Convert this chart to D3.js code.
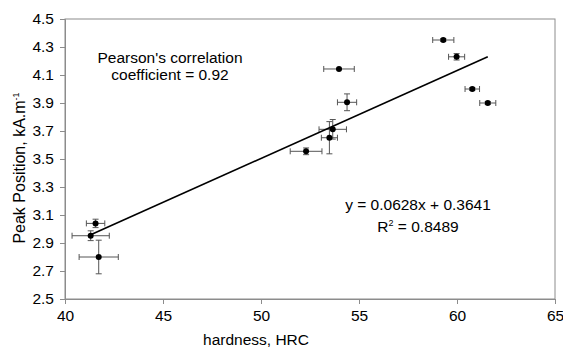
<!DOCTYPE html>
<html><head><meta charset="utf-8">
<script src="https://cdn.jsdelivr.net/npm/d3@7"></script>
<style>body{margin:0;background:#fff}text{font-family:"Liberation Sans",Arial,sans-serif;fill:#000}</style>
</head><body><svg id="c" width="563" height="349"></svg>
<script>
const hardness   = [41.56, 41.31, 41.72, 52.30, 53.49, 53.66, 54.39, 53.98, 59.30, 59.98, 60.78, 61.57];
const peakPos    = [3.04, 2.952, 2.80, 3.555, 3.652, 3.712, 3.905, 4.143, 4.35, 4.23, 4.00, 3.90];
const hardnessErr= [0.47, 0.95, 1.00, 0.81, 0.41, 0.70, 0.49, 0.78, 0.54, 0.41, 0.37, 0.41];
const peakErr    = [0.03, 0.035, 0.12, 0.024, 0.115, 0.07, 0.06, 0.005, 0.01, 0.023, 0.01, 0.01];
const xTicks = [40, 45, 50, 55, 60, 65];
const yTicks = [2.5, 2.7, 2.9, 3.1, 3.3, 3.5, 3.7, 3.9, 4.1, 4.3, 4.5];
const slope = 0.0628, intercept = 0.3641;

const svg = d3.select("#c");
const L = 65, R = 555, T = 19, B = 299;
const x = d3.scaleLinear().domain([40, 65]).range([L, R]);
const y = d3.scaleLinear().domain([2.5, 4.5]).range([B, T]);
const gray = "#8c8c8c";
const fs = 15.5;

svg.append("rect").attr("x", L).attr("y", T).attr("width", R - L).attr("height", B - T)
  .attr("fill", "none").attr("stroke", gray).attr("stroke-width", 1);

const xa = svg.append("g").attr("transform", `translate(0,${B})`)
  .call(d3.axisBottom(x).tickValues(xTicks).tickSize(5).tickPadding(6).tickFormat(d3.format("d")));
const ya = svg.append("g").attr("transform", `translate(${L},0)`)
  .call(d3.axisLeft(y).tickValues(yTicks).tickSize(5).tickPadding(6).tickFormat(d3.format(".1f")));
[xa, ya].forEach(a => {
  a.select(".domain").attr("stroke", gray);
  a.selectAll(".tick line").attr("stroke", gray);
  a.selectAll("text").attr("font-size", fs).attr("font-family", "Liberation Sans, Arial, sans-serif").attr("fill", "#000");
});

const data = hardness.map((h, i) => ({x: h, y: peakPos[i], ex: hardnessErr[i], ey: peakErr[i]}));
const eb = svg.append("g").attr("stroke", "#555").attr("stroke-width", 1).attr("fill", "none");
const cap = 3;
data.forEach(d => {
  const cx = x(d.x), cy = y(d.y);
  const x0 = x(d.x - d.ex), x1 = x(d.x + d.ex), y0 = y(d.y - d.ey), y1 = y(d.y + d.ey);
  eb.append("line").attr("x1", x0).attr("x2", x1).attr("y1", cy).attr("y2", cy);
  eb.append("line").attr("x1", x0).attr("x2", x0).attr("y1", cy - cap).attr("y2", cy + cap);
  eb.append("line").attr("x1", x1).attr("x2", x1).attr("y1", cy - cap).attr("y2", cy + cap);
  eb.append("line").attr("x1", cx).attr("x2", cx).attr("y1", y0).attr("y2", y1);
  eb.append("line").attr("x1", cx - cap).attr("x2", cx + cap).attr("y1", y0).attr("y2", y0);
  eb.append("line").attr("x1", cx - cap).attr("x2", cx + cap).attr("y1", y1).attr("y2", y1);
});

const xmin = d3.min(hardness), xmax = d3.max(hardness);
svg.append("line")
  .attr("x1", x(xmin)).attr("y1", y(slope * xmin + intercept))
  .attr("x2", x(xmax)).attr("y2", y(slope * xmax + intercept))
  .attr("stroke", "#000").attr("stroke-width", 1.6);

svg.append("g").selectAll("circle").data(data).join("circle")
  .attr("cx", d => x(d.x)).attr("cy", d => y(d.y)).attr("r", 3).attr("fill", "#000");

svg.append("text").attr("x", 170).attr("y", 63).attr("text-anchor", "middle").attr("font-size", fs).text("Pearson's correlation");
svg.append("text").attr("x", 170).attr("y", 80).attr("text-anchor", "middle").attr("font-size", fs).text("coefficient = 0.92");
svg.append("text").attr("x", 418).attr("y", 210).attr("text-anchor", "middle").attr("font-size", fs).text("y = 0.0628x + 0.3641");
const r2 = svg.append("text").attr("x", 418).attr("y", 232).attr("text-anchor", "middle").attr("font-size", fs);
r2.append("tspan").text("R");
r2.append("tspan").attr("font-size", 9).attr("dy", -6).text("2");
r2.append("tspan").attr("dy", 6).text(" = 0.8489");

svg.append("text").attr("x", 256).attr("y", 345).attr("text-anchor", "middle").attr("font-size", fs).text("hardness, HRC");
const yl = svg.append("text").attr("transform", "translate(25,168) rotate(-90)").attr("text-anchor", "middle").attr("font-size", 16);
yl.append("tspan").text("Peak Position, kA.m");
yl.append("tspan").attr("font-size", 9).attr("dy", -6).text("-1");
</script></body></html>
